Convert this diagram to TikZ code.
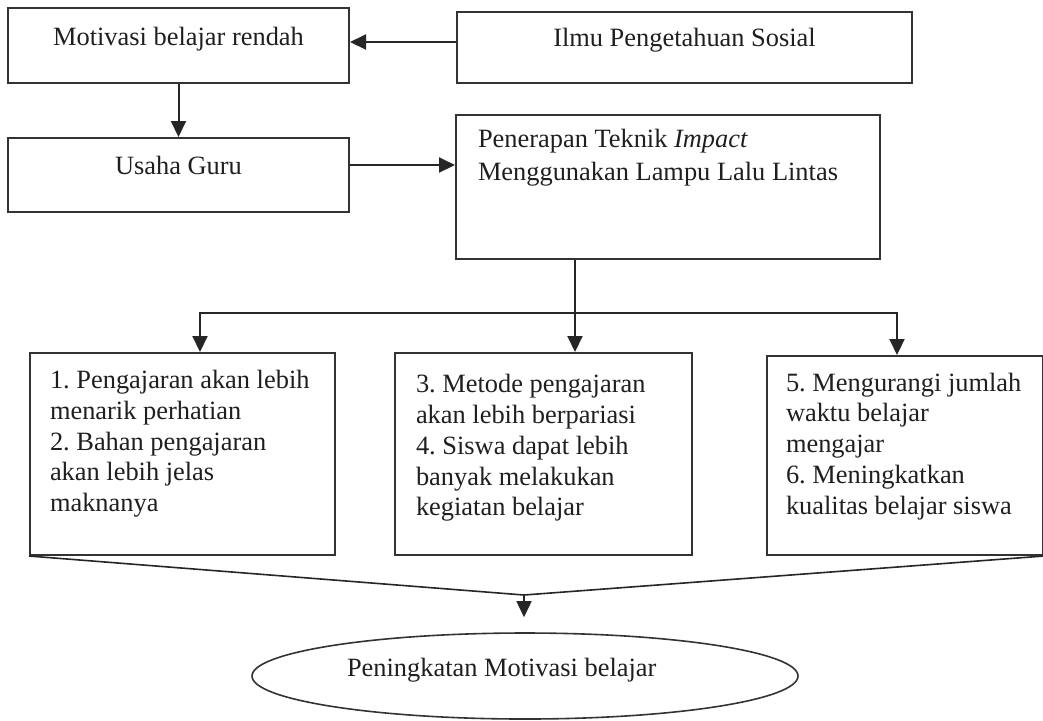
\documentclass[tikz,border=0pt]{standalone}
\usepackage{fontspec}
\setmainfont{Liberation Serif}
\usetikzlibrary{arrows.meta, positioning, shapes, calc}

\begin{document}
\frenchspacing
\begin{tikzpicture}[x=0.5pt, y=-0.5pt,
    every node/.style={font=\fontsize{13.2}{15.4}\selectfont, text=black!88},
    box/.style={draw=black!80, line width=1pt, rectangle, inner sep=0pt},
    listbox/.style={box, align=flush left, anchor=north west, inner xsep=10.5pt},
    arr/.style={-{Triangle[length=8pt, width=7.5pt]}, line width=1pt, draw=black!85}]
            \useasboundingbox (0,0) rectangle (1043,720);

            % blocks
            \node (rendah) [box, minimum width=170.5pt, text height=18.5pt, text depth=19pt] at (178.5,45.5)
            {Motivasi belajar rendah};

            \node (usaha) [box, below=26.5pt of rendah, minimum width=170.5pt, text height=18pt, text depth=19pt]
            {Usaha Guru};

            \node (ips) [box, right=53pt of rendah, yshift=-1pt, minimum width=227.5pt, text height=17.3pt, text depth=18.2pt]
            {Ilmu Pengetahuan Sosial};

            \node (teknik) [box, anchor=north west, align=flush left, inner xsep=11pt, text width=190pt,
                font=\fontsize{13.2}{16.5}\selectfont, text height=16.3pt, text depth=55.7pt] at (455,114)
            {Penerapan Teknik \textit{Impact}\\ Menggunakan Lampu Lalu Lintas};

            \node (listA) [listbox, inner xsep=10pt, text width=132.5pt, text height=17.7pt, text depth=83.3pt] at (29,352)
            {1. Pengajaran akan lebih\\ menarik perhatian\\ 2. Bahan pengajaran\\ akan lebih jelas\\ maknanya};

            \node (listB) [listbox, text width=127.5pt, text height=19.8pt, text depth=81.2pt] at (394,352)
            {3. Metode pengajaran\\ akan lebih berpariasi\\ 4. Siswa dapat lebih\\ banyak melakukan\\ kegiatan belajar};

            \node (listC) [listbox, inner xsep=9.5pt, text width=119pt, text height=17.5pt, text depth=82pt] at (766,355)
            {5. Mengurangi jumlah\\ waktu belajar\\ mengajar\\ 6. Meningkatkan\\ kualitas belajar siswa};

            \node (hasil) [draw=black!80, line width=0.8pt, ellipse, minimum width=273pt, minimum height=43pt,
                inner sep=0pt, text width=178pt, align=flush left, text height=8.5pt, text depth=8.5pt] at (525,676)
            {Peningkatan Motivasi belajar};

            % branch points
            \coordinate (fork) at (575,313);
            \coordinate (forkL) at (200,313);
            \coordinate (forkR) at (897,313);
            \coordinate (merge) at (524,595);

            % arrows
            \draw[arr] ([yshift=2.75pt]ips.west) -- ([yshift=2.75pt]ips.west -| rendah.east);

            \draw[arr] (rendah) -- (usaha);

            \draw[arr] ([yshift=5pt]usaha.east) -- ([yshift=5pt]usaha.east -| teknik.west);

            \draw[arr] (fork |- teknik.south) -- (fork |- listB.north);

            \draw[arr] (fork) -- (forkL) -- (forkL |- listA.north);

            \draw[arr] (fork) -- (forkR) -- (forkR |- listC.north);

            \draw[draw=black!85, line width=0.8pt] (listA.south west) -- (merge) -- (listC.south east);

            \draw[arr, line width=0.8pt, shorten >=7.5pt] (merge) -- (merge |- hasil.north);

        \end{tikzpicture}
\end{document}
